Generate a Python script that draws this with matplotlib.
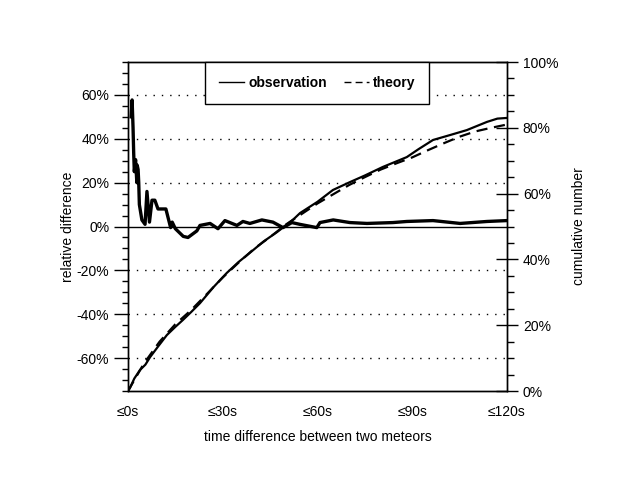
import matplotlib
matplotlib.use("Agg")
import matplotlib.pyplot as plt
from matplotlib.ticker import MultipleLocator, FuncFormatter

plt.rcParams['font.family'] = ['Liberation Sans', 'DejaVu Sans']

# relative difference (left axis, %), time in seconds
diff_t = [1.0, 1.3, 1.6, 1.8, 2.0, 2.4, 2.8, 2.9, 3.2, 3.4, 3.6, 4.4, 5.4, 6.0, 6.8, 7.6, 8.5, 9.5, 10.4,
          12.0, 13.5, 14.0, 15.0, 17.5, 19.0, 21.8, 22.8, 26.0, 28.5, 30.7, 34.5, 36.4, 38.6, 42.4, 45.9,
          49.1, 51.9, 54.4, 59.8, 60.8, 65.0, 70.3, 75.7, 83.9, 88.3, 96.6, 105.2, 113.7, 120.0]
diff_v = [50.0, 57.7, 45.0, 33.6, 25.0, 30.5, 20.0, 28.0, 26.0, 20.0, 10.0, 3.0, 1.0, 16.0, 2.0, 12.0,
          12.0, 8.0, 8.0, 8.0, -0.5, 2.0, -1.0, -4.5, -5.0, -2.0, 0.5, 1.4, -1.0, 2.7, 0.5, 2.3, 1.4, 3.0,
          2.0, -0.5, 1.8, 1.0, -0.5, 1.8, 3.0, 1.8, 1.4, 1.8, 2.3, 2.7, 1.4, 2.3, 2.7]

# cumulative number (right axis, %)
obs_t = [0.0, 0.6, 2.0, 3.8, 5.5, 7.0, 9.5, 12.3, 15.0, 17.4, 20.0, 22.8, 27.0, 31.3, 35.0, 38.6, 43.0,
         47.2, 52.2, 54.5, 60.0, 64.9, 70.3, 75.0, 80.7, 88.3, 92.0, 96.6, 102.0, 107.3, 113.7, 117.0, 120.0]
obs_v = [0.0, 0.9, 3.8, 6.4, 8.0, 10.3, 13.5, 17.0, 19.5, 21.6, 24.0, 26.7, 31.5, 35.9, 39.2, 42.0, 45.5,
         48.3, 52.0, 54.1, 57.5, 61.1, 63.5, 65.5, 68.1, 71.1, 73.5, 76.3, 77.8, 79.3, 81.8, 82.8, 83.0]
theo_t = [0.0, 5.0, 10.0, 15.0, 20.0, 25.0, 30.0, 35.0, 40.0, 45.0, 50.0, 55.0, 60.0, 65.0, 70.0, 75.0,
          80.0, 85.0, 90.0, 95.0, 100.0, 105.0, 110.0, 115.0, 120.0]
theo_v = [0.0, 8.3, 15.0, 20.3, 24.6, 29.5, 34.5, 39.0, 43.3, 46.8, 50.6, 53.8, 57.0, 59.8, 62.6, 65.0,
          67.3, 69.2, 71.0, 73.2, 75.3, 77.3, 78.9, 80.0, 81.0]

xticks = [0, 30, 60, 90, 120]
xlabels = ["≤0s", "≤30s", "≤60s", "≤90s", "≤120s"]

fig = plt.figure(figsize=(6.4, 4.8), dpi=100)
ax = fig.add_axes([0.2, 0.1854, 0.592, 0.6854])
ax2 = ax.twinx()

pct = FuncFormatter(lambda v, p: "%d%%" % round(v))

ax.set_xlim(0, 120)
ax.set_ylim(-75, 75)
ax.set_xticks(xticks)
ax.set_xticklabels(xlabels)
ax.tick_params(axis='x', length=0, pad=10, labelsize=10)
ax.yaxis.set_major_locator(MultipleLocator(20))
ax.yaxis.set_minor_locator(MultipleLocator(5))
ax.yaxis.set_major_formatter(pct)
ax.tick_params(axis='y', which='major', direction='out', length=10, width=1, labelsize=10)
ax.tick_params(axis='y', which='minor', direction='out', length=4, width=1)

for g in [-60, -40, -20, 20, 40, 60]:
    ax.axhline(g, color='black', lw=1, linestyle=(0, (1, 5)), zorder=1)
ax.axhline(0, color='black', lw=1, zorder=1)

ax.plot(diff_t, diff_v, color='black', lw=2.4, zorder=3)

ax2.set_ylim(0, 100)
ax2.yaxis.set_major_locator(MultipleLocator(20))
ax2.yaxis.set_minor_locator(MultipleLocator(5))
ax2.yaxis.set_major_formatter(pct)
ax2.tick_params(axis='y', which='major', direction='inout', length=16, width=1, labelsize=10)
ax2.tick_params(axis='y', which='minor', direction='out', length=5, width=1)

l1, = ax2.plot(obs_t, obs_v, color='black', lw=1.6, label='observation')
l2, = ax2.plot(theo_t, theo_v, color='black', lw=1.6, linestyle=(0, (5, 3)), label='theory')

for a in (ax, ax2):
    for s in a.spines.values():
        s.set_linewidth(1)

ax.set_xlabel("time difference between two meteors", fontsize=10, labelpad=8)
ax.set_ylabel("relative difference", fontsize=10, labelpad=1)
ax2.set_ylabel("cumulative number", fontsize=10, labelpad=10)

leg = ax2.legend(handles=[l1, l2], loc='upper center', bbox_to_anchor=(0.5, 1.0), ncol=2,
                 handlelength=1.8, handletextpad=0.3, columnspacing=1.2, borderpad=1.0,
                 borderaxespad=0, fancybox=False, framealpha=1, edgecolor='black',
                 prop={'weight': 'bold', 'size': 10})
leg.get_frame().set_linewidth(1)
for h in leg.get_lines():
    h.set_linewidth(1)

fig.savefig("out.png", dpi=100)
